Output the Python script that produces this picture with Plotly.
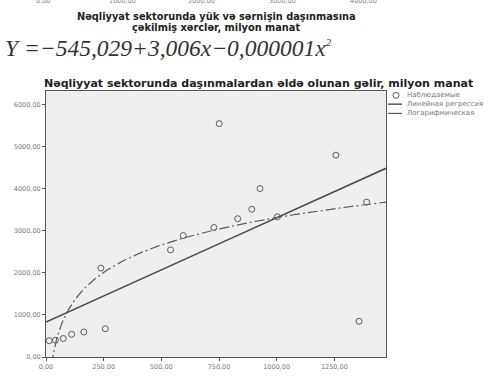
import numpy as np
import plotly.graph_objects as go

# Observed data: transport-sector spending (x) vs. revenue (y), million manat
xerc = [14, 41, 75, 111, 164, 257, 238, 540, 595, 728, 751, 831, 892, 928, 1003, 1257, 1357, 1390]
gelir = [387, 400, 440, 539, 595, 671, 2113, 2546, 2887, 3079, 5549, 3287, 3512, 4005, 3333, 4799, 850, 3681]

x_ticks = [0, 250, 500, 750, 1000, 1250]
x_ticktext = ["0,00", "250,00", "500,00", "750,00", "1000,00", "1250,00"]
y_ticks = [0, 1000, 2000, 3000, 4000, 5000, 6000]
y_ticktext = ["0,00", "1000,00", "2000,00", "3000,00", "4000,00", "5000,00", "6000,00"]
prev_ticktext = ["0,00", "1000,00", "2000,00", "3000,00", "4000,00"]

legend_labels = ["Наблюдаемые", "Линейная регрессия", "Логарифмическая"]

W, H = 499, 383
L, R, T, B = 46, 113, 91, 19
X_RANGE = [0, 1474]
Y_RANGE = [0, 6324]

def px(p):
    return (p - L) / (W - L - R)

def py(p):
    return (H - B - p) / (H - T - B)

xa = np.array(xerc, dtype=float)
ya = np.array(gelir, dtype=float)
lin = np.polyfit(xa, ya, 1)
logc = np.polyfit(np.log(xa), ya, 1)

xs = np.linspace(X_RANGE[0], X_RANGE[1], 300)
xs_log = np.linspace(1, X_RANGE[1], 600)

fig = go.Figure()
fig.add_trace(go.Scatter(x=xs, y=np.polyval(lin, xs), mode="lines",
                         line=dict(color="#4a4a4a", width=1.6), showlegend=False))
fig.add_trace(go.Scatter(x=xs_log, y=np.polyval(logc, np.log(xs_log)), mode="lines",
                         line=dict(color="#5a5a5a", width=1.2, dash="10px,3px,2px,3px"),
                         showlegend=False))
fig.add_trace(go.Scatter(x=xerc, y=gelir, mode="markers",
                         marker=dict(symbol="circle-open", size=6, color="#5a5a5a",
                                     line=dict(width=1)), showlegend=False))

axis_common = dict(showgrid=False, zeroline=False, showline=True, linecolor="#555555",
                   linewidth=1, mirror=True, ticks="outside", ticklen=3, tickcolor="#555555",
                   tickfont=dict(family="DejaVu Sans", size=6.5, color="#7a7a7a"))
fig.update_xaxes(range=X_RANGE, tickvals=x_ticks, ticktext=x_ticktext, **axis_common)
fig.update_yaxes(range=Y_RANGE, tickvals=y_ticks, ticktext=y_ticktext, **axis_common)

ann = []
# tick labels of the chart above, cut by the top edge
for xp, t in zip([43, 122, 201, 282, 363], prev_ticktext):
    ann.append(dict(x=px(xp), y=py(-1.5), xref="paper", yref="paper", text=t, showarrow=False,
                    font=dict(family="DejaVu Sans", size=6.5, color="#888888"),
                    xanchor="center", yanchor="middle"))
for yy, t in zip([15, 25.5], ["Nəqliyyat sektorunda yük və sərnişin daşınmasına",
                              "çəkilmiş xərclər, milyon manat"]):
    ann.append(dict(x=px(216), y=py(yy), xref="paper", yref="paper", showarrow=False,
                    text="<b>" + t + "</b>",
                    font=dict(family="DejaVu Sans", size=9.8, color="#222222"),
                    xanchor="center", yanchor="middle"))
ann.append(dict(x=px(3), y=py(47), xref="paper", yref="paper", showarrow=False,
                text="<i>Y =−545,029+3,006x−0,000001x<sup><span style='font-size:11px'>2</span></sup></i>",
                font=dict(family="Liberation Serif", size=23.5, color="#333333"),
                xanchor="left", yanchor="middle"))
ann.append(dict(x=px(258), y=py(83), xref="paper", yref="paper", showarrow=False,
                text="<b>Nəqliyyat sektorunda daşınmalardan əldə olunan gəlir, milyon manat</b>",
                font=dict(family="DejaVu Sans", size=11, color="#222222"),
                xanchor="center", yanchor="middle"))

# hand-built legend to the right of the plot
leg_rows = [95.5, 104.5, 114]
for yy, t in zip(leg_rows, legend_labels):
    ann.append(dict(x=px(405), y=py(yy), xref="paper", yref="paper", text=t, showarrow=False,
                    font=dict(family="DejaVu Sans", size=7, color="#777777"),
                    xanchor="left", yanchor="middle"))

shapes = [
    dict(type="circle", xref="paper", yref="paper", x0=px(393), x1=px(399),
         y0=py(98.5), y1=py(92.5), line=dict(color="#5a5a5a", width=1)),
    dict(type="line", xref="paper", yref="paper", x0=px(388), x1=px(402),
         y0=py(leg_rows[1]), y1=py(leg_rows[1]), line=dict(color="#4a4a4a", width=1.4)),
    dict(type="line", xref="paper", yref="paper", x0=px(388), x1=px(402),
         y0=py(leg_rows[2]), y1=py(leg_rows[2]), line=dict(color="#5a5a5a", width=1.2)),
]

fig.update_layout(width=W, height=H, margin=dict(l=L, r=R, t=T, b=B),
                  paper_bgcolor="white", plot_bgcolor="#efefef",
                  annotations=ann, shapes=shapes, showlegend=False)

fig.write_html("out.html")
